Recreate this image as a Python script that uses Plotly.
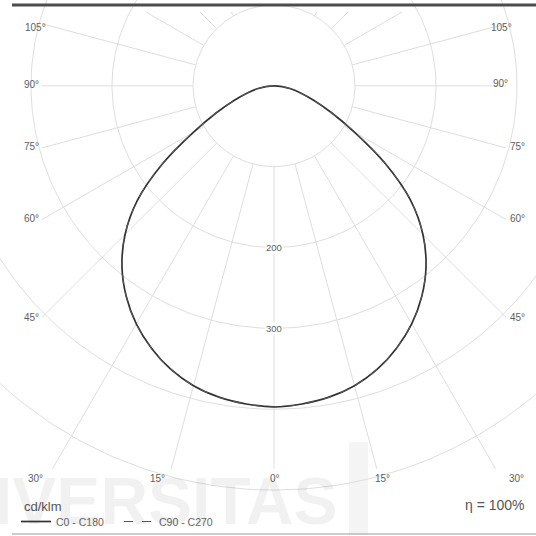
import numpy as np
import plotly.graph_objects as go

# ---------------- data ----------------
gamma_deg = [0, 5, 10, 15, 20, 25, 30, 35, 40, 45, 50, 55, 60, 65, 70, 75, 80, 85, 90]
c0_c180 = [397, 395, 391, 384, 373, 358, 340, 318, 292, 260, 220, 168, 115, 78, 52, 34, 21, 10, 0]
c90_c270 = [397, 395, 391, 384, 373, 358, 340, 318, 292, 260, 220, 168, 115, 78, 52, 34, 21, 10, 0]
ring_values = [100, 200, 300, 400, 500]
ring_label_values = [200, 300]
radial_angles = [-150, -135, -120, -105, -90, -75, -60, -45, -30, -15, 0,
                 15, 30, 45, 60, 75, 90, 105, 120, 135, 150]
angle_label_text = ["105°", "90°", "75°", "60°", "45°", "30°", "15°", "0°",
                    "15°", "30°", "45°", "60°", "75°", "90°", "105°"]
unit_text = "cd/klm"
eta_text = "η = 100%"

# ---------------- layout constants (pixels) ----------------
W = H = 536
CX, CY = 274, 86          # pixel position of the polar origin
S = 0.81                  # pixels per cd/klm
BOX = dict(left=42, right=506, top=12, bottom=470)
label_px = [(35, 28), (31, 85), (31, 147), (31, 219), (31, 318), (35, 479),
            (157, 479), (275, 479), (382, 479),
            (516, 479), (517, 318), (517, 219), (517, 147), (500, 84), (501, 28)]

GRID = "#dedede"
CURVE = "#333333"
TXT = "#5e5e5e"
FONT = "Liberation Sans, Arial, sans-serif"


def px(x):
    return x / W


def py(y):
    return 1 - y / H


def polar_xy(r, g_deg):
    g = np.radians(np.asarray(g_deg, dtype=float))
    r = np.asarray(r, dtype=float)
    return r * np.sin(g), -r * np.cos(g)


fig = go.Figure()

# rings
t = np.linspace(0, 360, 361)
for rv in ring_values:
    x, y = polar_xy(np.full_like(t, rv), t)
    fig.add_trace(go.Scatter(x=x, y=y, mode="lines", line=dict(color=GRID, width=1),
                             hoverinfo="skip", showlegend=False))

# radial lines: from the 100 ring out to the frame box
for a in radial_angles:
    ux, uy = np.sin(np.radians(a)), np.cos(np.radians(a))
    cands = []
    if ux > 1e-9:
        cands.append((BOX["right"] - CX) / ux)
    if ux < -1e-9:
        cands.append((BOX["left"] - CX) / ux)
    if uy > 1e-9:
        cands.append((BOX["bottom"] - CY) / uy)
    if uy < -1e-9:
        cands.append((BOX["top"] - CY) / uy)
    r_end = min(cands) / S
    r0 = ring_values[0]
    if r_end <= r0:
        continue
    x, y = polar_xy([r0, r_end], [a, a])
    fig.add_trace(go.Scatter(x=x, y=y, mode="lines", line=dict(color=GRID, width=1),
                             hoverinfo="skip", showlegend=False))

# intensity curves (left half = C180 / C270, right half = C0 / C90)
g_full = [-g for g in gamma_deg[::-1]] + gamma_deg[1:]
i_a = c0_c180[::-1] + c0_c180[1:]
i_b = c90_c270[::-1] + c90_c270[1:]
xa, ya = polar_xy(i_a, g_full)
xb, yb = polar_xy(i_b, g_full)
fig.add_trace(go.Scatter(x=xa, y=ya, mode="lines", name="C0 - C180",
                         line=dict(color=CURVE, width=1.7, shape="spline"),
                         hoverinfo="skip"))
fig.add_trace(go.Scatter(x=xb, y=yb, mode="lines", name="C90 - C270",
                         line=dict(color="#555555", width=1.1, dash="dash", shape="spline"),
                         hoverinfo="skip"))

annotations = []
# ring value labels on the 0° axis
for rv in ring_label_values:
    annotations.append(dict(x=0, y=-rv, xref="x", yref="y", text=str(rv), showarrow=False,
                            xanchor="center", yanchor="middle",
                            font=dict(size=9.5, color=TXT, family=FONT),
                            bgcolor="white", borderpad=0))
# angle labels
for txt, (lx, ly) in zip(angle_label_text, label_px):
    annotations.append(dict(x=px(lx), y=py(ly), xref="paper", yref="paper", text=txt,
                            xanchor="center", yanchor="middle",
                            showarrow=False, font=dict(size=10, color=TXT, family=FONT)))
# unit and efficiency texts
annotations.append(dict(x=px(22), y=py(507), xref="paper", yref="paper", text=unit_text,
                        xanchor="left", yanchor="middle", showarrow=False,
                        font=dict(size=13, color="#555555", family=FONT)))
annotations.append(dict(x=px(527), y=py(506), xref="paper", yref="paper", text=eta_text,
                        xanchor="right", yanchor="middle", showarrow=False,
                        font=dict(size=14, color="#555555", family=FONT)))
# faint watermark
annotations.append(dict(x=px(340), y=py(502), xref="paper", yref="paper", text="<b>IVERSITAS</b>",
                        xanchor="right", yanchor="middle", showarrow=False,
                        font=dict(size=66, color="rgba(0,0,0,0.055)", family=FONT)))

shapes = [
    dict(type="rect", xref="paper", yref="paper", x0=px(349), x1=px(368), y0=py(536), y1=py(443),
         fillcolor="rgba(0,0,0,0.045)", line=dict(width=0), layer="below"),
    dict(type="line", xref="paper", yref="paper", x0=px(12), x1=1.0, y0=py(5), y1=py(5),
         line=dict(color="#4d4d4d", width=3)),
    dict(type="line", xref="paper", yref="paper", x0=px(12), x1=1.0, y0=py(535), y1=py(535),
         line=dict(color="#9a9a9a", width=1)),
]

fig.update_layout(
    width=W, height=H,
    margin=dict(l=0, r=0, t=0, b=0),
    paper_bgcolor="white", plot_bgcolor="white",
    xaxis=dict(range=[(0 - CX) / S, (W - CX) / S], visible=False, fixedrange=True),
    yaxis=dict(range=[(CY - H) / S, CY / S], visible=False, fixedrange=True),
    showlegend=True,
    legend=dict(orientation="h", x=px(16), y=py(522), xanchor="left", yanchor="middle",
                bgcolor="rgba(0,0,0,0)", font=dict(size=10.5, color="#666666", family=FONT),
                entrywidth=58, entrywidthmode="pixels", itemwidth=30,
                tracegroupgap=0),
    annotations=annotations,
    shapes=shapes,
)

fig.write_html(
    "out.html",
    config={"displayModeBar": False, "staticPlot": True},
    post_script="document.body.style.margin='0px';document.body.style.overflow='hidden';",
)
